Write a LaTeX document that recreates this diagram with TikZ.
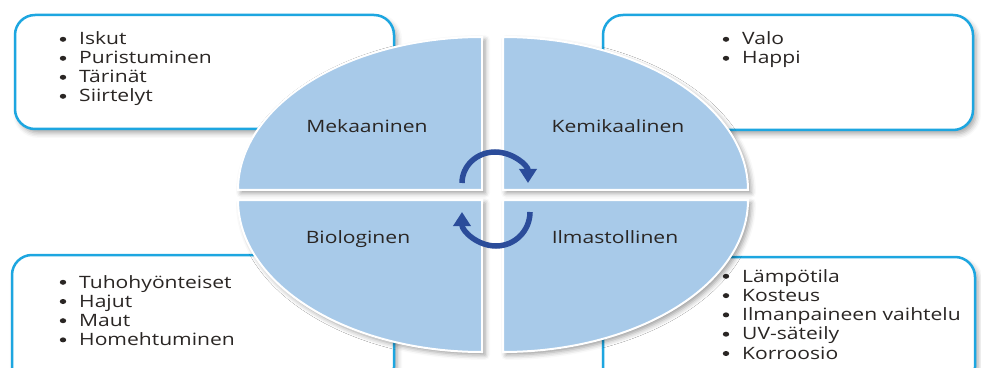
\documentclass[tikz,border=0pt]{standalone}
\usepackage{fontspec}
\setmainfont{Open Sans}[FakeStretch=1.24]
\usetikzlibrary{shadows.blur,arrows.meta}

\definecolor{boxline}{HTML}{1DA6E0}
\definecolor{quadfill}{HTML}{A8CAE9}
\definecolor{cycblue}{HTML}{2B4C9A}
\definecolor{txt}{HTML}{2A2624}

\tikzset{
  infobox/.style={draw=boxline, line width=2.5pt, fill=white, rounded corners=20pt,
    blur shadow={shadow xshift=3pt, shadow yshift=-4pt, shadow blur radius=5pt, shadow opacity=35}},
  quad/.style={draw=white, line width=2pt, fill=quadfill,
    blur shadow={shadow xshift=3pt, shadow yshift=-3pt, shadow blur radius=5pt, shadow opacity=40}},
  listitem/.style={anchor=base west, inner sep=0pt, text=txt, font=\fontsize{17}{19}\selectfont},
  bul/.style={fill=txt},
  qlabel/.style={anchor=base, inner sep=0pt, text=txt, font=\fontsize{17}{19}\selectfont},
  cycarrow/.style={draw=cycblue, line width=5.5pt, -{Triangle[width=17pt,length=14pt]}}
}

\begin{document}
\begin{tikzpicture}[x=1pt, y=1pt]
\useasboundingbox (0,0) rectangle (981,367);
\clip (0,0) rectangle (981,367);

% corner boxes
\path[infobox] (15,238) rectangle (394,352);
\path[infobox] (603,237) rectangle (973,352);
\path[infobox] (12,-20) rectangle (394,112);
\path[infobox] (603,-20) rectangle (975,110);

% box lists
\foreach \t [count=\i] in {Iskut,Puristuminen,Tärinät,Siirtelyt} {
  \node[listitem] (mek\i) at (79, {322-19*(\i-1)}) {\t};
  \fill[bul] (63, {327.7-19*(\i-1)}) ellipse (3.2pt and 2.5pt);
}
\foreach \t [count=\i] in {Valo,Happi} {
  \node[listitem] (kem\i) at (742, {322-19*(\i-1)}) {\t};
  \fill[bul] (726, {327.7-19*(\i-1)}) ellipse (3.2pt and 2.5pt);
}
\foreach \t [count=\i] in {Tuhohyönteiset,Hajut,Maut,Homehtuminen} {
  \node[listitem] (bio\i) at (79, {79-19.2*(\i-1)}) {\t};
  \fill[bul] (63, {84.7-19.2*(\i-1)}) ellipse (3.2pt and 2.5pt);
}
\foreach \t [count=\i] in {Lämpötila,Kosteus,Ilmanpaineen vaihtelu,UV-säteily,Korroosio} {
  \node[listitem] (ilm\i) at (742, {85-19.3*(\i-1)}) {\t};
  \fill[bul] (726, {90.7-19.3*(\i-1)}) ellipse (3.2pt and 2.5pt);
}

% four quadrants
\path[quad] (482,177) -- (238,177) arc (180:90:244pt and 153pt) -- cycle;
\path[quad] (503,177) -- (503,330) arc (90:0:245pt and 153pt) -- cycle;
\path[quad] (482,167) -- (238,167) arc (180:270:244pt and 152pt) -- cycle;
\path[quad] (503,167) -- (748,167) arc (0:-90:245pt and 152pt) -- cycle;

% quadrant labels
\node[qlabel] (mekaaninen) at (367,234) {Mekaaninen};
\node[qlabel] (kemikaalinen) at (618,234) {Kemikaalinen};
\node[qlabel] (biologinen) at (358,124) {Biologinen};
\node[qlabel] (ilmastollinen) at (615,124) {Ilmastollinen};

% cycle arrows
\draw[cycarrow] (462,184) arc (180:0:33pt and 31pt);
\draw[cycarrow] (530,155) arc (0:-180:34pt and 34pt);
\end{tikzpicture}
\end{document}
